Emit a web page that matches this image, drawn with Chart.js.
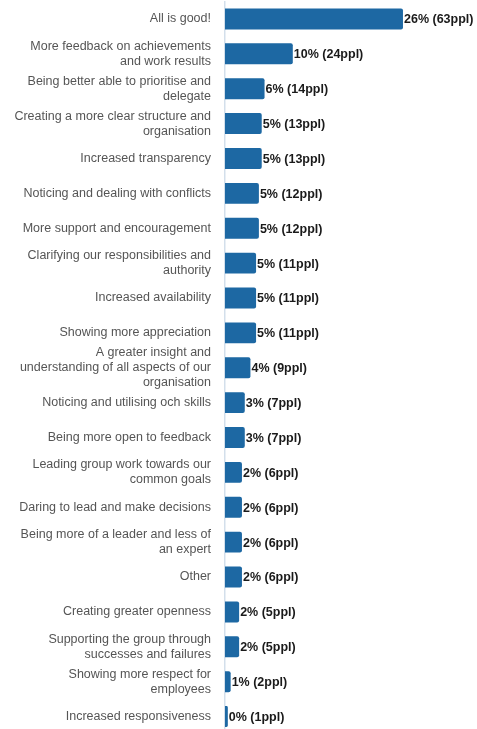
<!DOCTYPE html>
<html>
<head>
<meta charset="utf-8">
<script src="https://cdn.jsdelivr.net/npm/chart.js@4"></script>
<style>
  html, body { margin: 0; padding: 0; background: #fff; overflow: hidden; }
  #wrap { position: relative; width: 477px; height: 734px; }
</style>
</head>
<body>
<div id="wrap"><canvas id="chart"></canvas></div>
<script>
// answers, wrapped the way they appear beside the bars
const categories = [
    ["All is good!"],
    ["More feedback on achievements", "and work results"],
    ["Being better able to prioritise and", "delegate"],
    ["Creating a more clear structure and", "organisation"],
    ["Increased transparency"],
    ["Noticing and dealing with conflicts"],
    ["More support and encouragement"],
    ["Clarifying our responsibilities and", "authority"],
    ["Increased availability"],
    ["Showing more appreciation"],
    ["A greater insight and", "understanding of all aspects of our", "organisation"],
    ["Noticing and utilising och skills"],
    ["Being more open to feedback"],
    ["Leading group work towards our", "common goals"],
    ["Daring to lead and make decisions"],
    ["Being more of a leader and less of", "an expert"],
    ["Other"],
    ["Creating greater openness"],
    ["Supporting the group through", "successes and failures"],
    ["Showing more respect for", "employees"],
    ["Increased responsiveness"]
];
const people = [63, 24, 14, 13, 13, 12, 12, 11, 11, 11, 9, 7, 7, 6, 6, 6, 6, 5, 5, 2, 1];
const percent = [26, 10, 6, 5, 5, 5, 5, 5, 5, 5, 4, 3, 3, 2, 2, 2, 2, 2, 2, 1, 0];

const BAR_BLUE = '#1d68a3';
const FONT = '"Liberation Sans", Arial, sans-serif';

// "26% (63ppl)" at the end of each bar
const valueLabels = {
    id: 'valueLabels',
    afterDatasetsDraw(chart) {
        const ctx = chart.ctx;
        const meta = chart.getDatasetMeta(0);
        ctx.save();
        ctx.font = 'bold 12.5px ' + FONT;
        ctx.fillStyle = '#1a1a1a';
        ctx.textBaseline = 'middle';
        ctx.textAlign = 'left';
        meta.data.forEach((bar, i) => {
            ctx.fillText(`${percent[i]}% (${people[i]}ppl)`, bar.x + 1, bar.y + 1);
        });
        ctx.restore();
    }
};

new Chart(document.getElementById('chart'), {
    type: 'bar',
    data: {
        labels: categories,
        datasets: [{
            data: people,
            backgroundColor: BAR_BLUE,
            borderWidth: 0,
            borderRadius: { topRight: 2, bottomRight: 2 },
            borderSkipped: 'start',
            categoryPercentage: 1,
            barPercentage: 0.6
        }]
    },
    options: {
        indexAxis: 'y',
        responsive: true,
        maintainAspectRatio: false,
        animation: false,
        layout: { padding: { top: 1.5, right: 26, bottom: 0, left: 0 } },
        plugins: {
            legend: { display: false },
            tooltip: { enabled: false }
        },
        scales: {
            x: {
                display: false,
                min: 0,
                max: 80
            },
            y: {
                grid: { display: false, drawTicks: false },
                border: { display: true, color: '#d3dfeb', width: 1.5 },
                ticks: {
                    autoSkip: false,
                    padding: 14,
                    color: '#555',
                    font: { family: FONT, size: 12.5, lineHeight: 1.2 }
                },
                afterFit(scale) {
                    scale.width = 225;
                    scale.paddingTop = 0;
                    scale.paddingBottom = 0;
                }
            }
        }
    },
    plugins: [valueLabels]
});
</script>
</body>
</html>
